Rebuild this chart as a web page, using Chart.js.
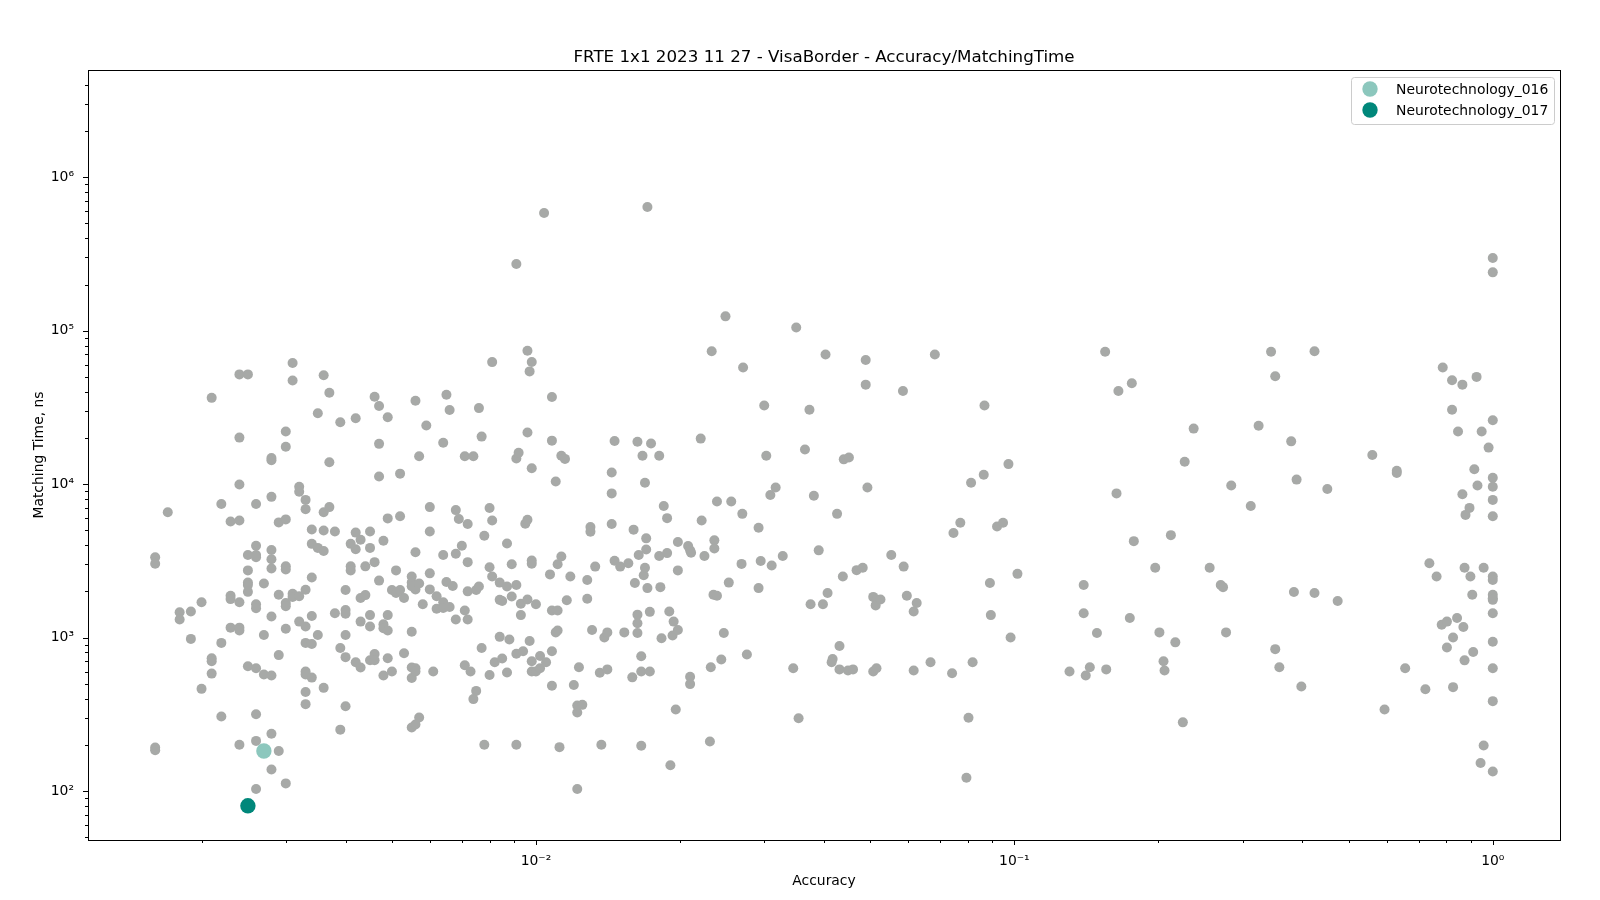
<!DOCTYPE html>
<html>
<head>
<meta charset="utf-8">
<title>FRTE 1x1</title>
<script src="https://cdn.jsdelivr.net/npm/chart.js@4"></script>
<style>
html, body { margin: 0; padding: 0; background: #fff; }
canvas { display: block; }
</style>
</head>
<body>
<canvas id="result-scatter" width="1600" height="900"></canvas>
<script>
// accuracy / matching time, grouped by accuracy range
var accuracyA = [
    0.0016, 0.0016, 0.0016, 0.0016, 0.0017, 0.0018, 0.0018, 0.0019, 0.0019, 0.0020,
    0.0020, 0.0021, 0.0021, 0.0021, 0.0021, 0.0022, 0.0022, 0.0022, 0.0023, 0.0023,
    0.0023, 0.0023, 0.0024, 0.0024, 0.0024, 0.0024, 0.0024, 0.0024, 0.0024, 0.0024,
    0.0025, 0.0025, 0.0025, 0.0025, 0.0025, 0.0025, 0.0025, 0.0026, 0.0026, 0.0026,
    0.0026, 0.0026, 0.0026, 0.0026, 0.0026, 0.0026, 0.0026, 0.0027, 0.0027, 0.0027,
    0.0028, 0.0028, 0.0028, 0.0028, 0.0028, 0.0028, 0.0028, 0.0028, 0.0028, 0.0028,
    0.0029, 0.0029, 0.0029, 0.0029, 0.0030, 0.0030, 0.0030, 0.0030, 0.0030, 0.0030,
    0.0030, 0.0030, 0.0030
];
var timeA = [
    3340, 3030, 192, 184, 6560, 1460, 1310, 1480, 980, 1700,
    463, 36500, 733, 700, 582, 7410, 923, 306, 5710, 1870,
    1780, 1160, 51900, 20100, 9930, 5800, 1700, 1160, 1110, 200,
    51900, 3450, 2740, 2280, 2200, 1985, 650, 7410, 3960, 3450,
    3340, 1650, 1550, 631, 316, 212, 103, 2250, 1040, 574,
    14800, 14300, 8260, 3720, 3240, 2820, 1370, 565, 236, 138,
    5630, 1900, 768, 182, 22000, 17500, 5890, 2910, 2780, 1680,
    1600, 1140, 112
];
var accuracyB = [
    0.0031, 0.0031, 0.0031, 0.0031, 0.0032, 0.0032, 0.0032, 0.0032, 0.0033, 0.0033,
    0.0033, 0.0033, 0.0033, 0.0033, 0.0033, 0.0033, 0.0033, 0.0034, 0.0034, 0.0034,
    0.0034, 0.0034, 0.0034, 0.0035, 0.0035, 0.0035, 0.0036, 0.0036, 0.0036, 0.0036,
    0.0036, 0.0037, 0.0037, 0.0037, 0.0038, 0.0038, 0.0039, 0.0039, 0.0039, 0.0040,
    0.0040, 0.0040, 0.0040, 0.0040, 0.0040, 0.0041, 0.0041, 0.0041, 0.0042, 0.0042,
    0.0042, 0.0042, 0.0043, 0.0043, 0.0043, 0.0043, 0.0044, 0.0044, 0.0045, 0.0045,
    0.0045, 0.0045, 0.0045, 0.0046, 0.0046, 0.0046, 0.0046, 0.0047, 0.0047, 0.0047,
    0.0047, 0.0048, 0.0048, 0.0048, 0.0048, 0.0049, 0.0049, 0.0049, 0.0049, 0.0049,
    0.0050, 0.0050, 0.0051, 0.0051, 0.0052, 0.0052, 0.0052, 0.0053, 0.0053
];
var timeB = [
    61500, 47400, 1930, 1840, 9620, 8910, 1860, 1270, 7890, 6870,
    2050, 1180, 923, 600, 575, 442, 368, 5060, 4080, 2460,
    1380, 908, 548, 29000, 3840, 1040, 51200, 6560, 4980, 3660,
    470, 39400, 13900, 7080, 4910, 1440, 25300, 855, 251, 2040,
    1510, 1430, 1040, 745, 357, 4080, 2910, 2740, 26900, 4830,
    3760, 690, 4340, 1810, 1270, 638, 2910, 1890, 4910, 3840,
    1400, 1180, 711, 37100, 3100, 780, 711, 32300, 18300, 11200,
    2350, 4270, 1220, 1150, 565, 27300, 5980, 1400, 1110, 733,
    2040, 600, 2740, 1950, 11700, 6170, 2040, 1810, 790
];
var accuracyC = [
    0.0055, 0.0055, 0.0055, 0.0055, 0.0055, 0.0055, 0.0055, 0.0056, 0.0056, 0.0056,
    0.0056, 0.0056, 0.0056, 0.0057, 0.0057, 0.0057, 0.0058, 0.0059, 0.0060, 0.0060,
    0.0060, 0.0060, 0.0061, 0.0062, 0.0062, 0.0064, 0.0064, 0.0064, 0.0064, 0.0065,
    0.0065, 0.0066, 0.0066, 0.0067, 0.0068, 0.0068, 0.0068, 0.0069, 0.0070, 0.0071,
    0.0071, 0.0071, 0.0072, 0.0072, 0.0072, 0.0072, 0.0073, 0.0074, 0.0074, 0.0075,
    0.0075, 0.0076, 0.0076, 0.0077, 0.0077, 0.0078, 0.0078, 0.0080, 0.0080, 0.0080,
    0.0081, 0.0081, 0.0081, 0.0084, 0.0084, 0.0084, 0.0082, 0.0085, 0.0085, 0.0087,
    0.0087, 0.0087, 0.0088, 0.0089, 0.0089, 0.0091, 0.0091, 0.0091, 0.0091, 0.0091,
    0.0092, 0.0093, 0.0093, 0.0094, 0.0095, 0.0096, 0.0096, 0.0096, 0.0096, 0.0097,
    0.0098, 0.0097, 0.0098, 0.0098, 0.0098, 0.0098, 0.0098, 0.0100, 0.0100
];
var timeC = [
    2500, 2280, 2160, 1090, 638, 545, 259, 34900, 3600, 2060,
    630, 600, 271, 15200, 2250, 301, 1650, 24100, 7080, 4910,
    2620, 2060, 600, 1860, 1540, 18600, 3450, 1700, 1560, 38200,
    2300, 30400, 1580, 2170, 6770, 3520, 1310, 5930, 3960, 15200,
    1500, 659, 5500, 3100, 2000, 1310, 600, 15200, 397, 2040,
    449, 31300, 2150, 20400, 855, 4610, 200, 6980, 2870, 570,
    62400, 5800, 2500, 2280, 1760, 1010, 690, 1730, 730, 2150,
    4100, 592, 970, 3000, 1850, 2200, 272000, 14700, 785, 200,
    16000, 1660, 1400, 815, 5520, 5860, 74000, 21700, 1770, 54300,
    3180, 950, 62500, 3030, 12700, 700, 600, 1650, 600
];
var accuracyD = [
    0.0102, 0.0102, 0.0104, 0.0105, 0.0107, 0.0108, 0.0108, 0.0108, 0.0108, 0.0108,
    0.0110, 0.0111, 0.0111, 0.0111, 0.0110, 0.0112, 0.0113, 0.0113, 0.0115, 0.0116,
    0.0118, 0.0120, 0.0122, 0.0122, 0.0125, 0.0122, 0.0123, 0.0128, 0.0128, 0.0130,
    0.0130, 0.0131, 0.0133, 0.0136, 0.0137, 0.0139, 0.0141, 0.0141, 0.0144, 0.0144,
    0.0144, 0.0146, 0.0146, 0.0150, 0.0153, 0.0156, 0.0160, 0.0161, 0.0163, 0.0163,
    0.0163, 0.0163, 0.0164, 0.0159, 0.0166, 0.0166, 0.0166, 0.0168, 0.0167, 0.0169,
    0.0169, 0.0170, 0.0170, 0.0171, 0.0171, 0.0173, 0.0173, 0.0174, 0.0181, 0.0181,
    0.0182, 0.0183, 0.0185, 0.0188, 0.0188, 0.0190, 0.0191, 0.0193, 0.0194, 0.0196,
    0.0198, 0.0198, 0.0198
];
var timeD = [
    631, 757, 585000, 690, 2580, 37000, 19200, 1500, 485, 815,
    10400, 1500, 3000, 1110, 1080, 193, 3370, 15300, 14600, 1750,
    2500, 490, 325, 360, 364, 103, 640, 2370, 1790, 5250,
    4900, 1120, 2900, 590, 200, 1000, 1080, 620, 11900, 8700,
    5500, 3170, 19100, 2900, 1080, 3050, 5050, 2270, 18900, 1410,
    1240, 1070, 3450, 550, 197, 755, 600, 2550, 15300, 10200,
    2850, 4430, 3750, 2100, 640000, 1470, 600, 18400, 15300, 3400,
    2130, 990, 7200, 6000, 3550, 1480, 147, 1030, 1270, 340,
    4200, 1120, 2740
];
var accuracyE = [
    0.0208, 0.0210, 0.0210, 0.0210, 0.0211, 0.0222, 0.0225, 0.0221, 0.0233, 0.0232,
    0.0231, 0.0235, 0.0239, 0.0236, 0.0236, 0.0239, 0.0244, 0.0247, 0.0249, 0.0253,
    0.0256, 0.0269, 0.0270, 0.0271, 0.0276, 0.0292, 0.0292, 0.0295, 0.0300, 0.0303,
    0.0309, 0.0311, 0.0317, 0.0328, 0.0345, 0.0350, 0.0354, 0.0365, 0.0373, 0.0381,
    0.0390, 0.0375, 0.0398, 0.0403, 0.0407, 0.0417, 0.0415, 0.0426, 0.0431, 0.0431,
    0.0438, 0.0440, 0.0451, 0.0449, 0.0460, 0.0468, 0.0482, 0.0489, 0.0489, 0.0493,
    0.0507, 0.0507, 0.0515, 0.0513, 0.0525, 0.0515, 0.0553, 0.0585, 0.0587, 0.0596,
    0.0616, 0.0616, 0.0625, 0.0668, 0.0682, 0.0741, 0.0746, 0.0771, 0.0794, 0.0802,
    0.0812, 0.0818, 0.0863, 0.0866, 0.0889, 0.0893, 0.0920, 0.0947, 0.0972, 0.0982,
    0.1015
];
var timeE = [
    3950, 3700, 555, 497, 3570, 5800, 3400, 19800, 73500, 640,
    210, 1900, 1870, 4300, 3800, 7700, 720, 1070, 124000, 2280,
    7700, 3020, 6400, 57500, 775, 5200, 2100, 3150, 32500, 15300,
    8500, 2950, 9500, 3400, 630, 105000, 298, 16800, 30500, 8400,
    3700, 1650, 1650, 70000, 1950, 725, 690, 6400, 880, 620,
    2500, 14500, 14900, 610, 620, 2750, 2850, 64500, 44500, 9500,
    600, 1840, 1760, 1620, 1770, 630, 3450, 40500, 2900, 1870,
    1480, 610, 1680, 690, 70000, 585, 4800, 5600, 122, 300,
    10200, 690, 11500, 32500, 2270, 1400, 5300, 5600, 13500, 1000,
    2600
];
var accuracyF = [
    0.1304, 0.1396, 0.1396, 0.1410, 0.1438, 0.1488, 0.1548, 0.1556, 0.1635, 0.1650,
    0.1743, 0.1760, 0.1777, 0.1970, 0.2010, 0.2050, 0.2060, 0.2124, 0.2170, 0.2250,
    0.2270, 0.2370, 0.2560, 0.2700, 0.2730, 0.2770, 0.2840, 0.3120, 0.3240, 0.3440,
    0.3510, 0.3510, 0.3580, 0.3790, 0.3840, 0.3890, 0.3980, 0.4240, 0.4240, 0.4510,
    0.4740, 0.5600, 0.5940, 0.6300, 0.6300, 0.6560, 0.7230, 0.7370, 0.7630, 0.7820,
    0.7860, 0.8020, 0.8020, 0.8220, 0.8220, 0.8260, 0.8260, 0.8420, 0.8460, 0.8640,
    0.8640, 0.8730, 0.8680, 0.8730, 0.8770, 0.8940, 0.8980, 0.9060, 0.9100, 0.9150,
    0.9250, 0.9290, 0.9430, 0.9480, 0.9570, 0.9570, 0.9800, 1, 1, 1,
    1, 1, 1, 1, 1, 1, 1, 1, 1, 1,
    1, 1, 1
];
var timeF = [
    600, 2200, 1440, 565, 640, 1070, 73000, 620, 8700, 40500,
    1340, 45500, 4250, 2850, 1080, 700, 610, 4650, 930, 280,
    14000, 23000, 2850, 2200, 2130, 1080, 9800, 7200, 24000, 73000,
    50500, 840, 640, 19000, 1980, 10700, 480, 73500, 1950, 9300,
    1730, 15500, 340, 11800, 12200, 630, 460, 3050, 2500, 1210,
    57500, 1270, 860, 47500, 30500, 1000, 475, 1340, 22000, 44500,
    8600, 2850, 1170, 710, 6300, 7000, 2500, 1900, 805, 12500,
    50000, 9800, 152, 22000, 2850, 198, 17300, 298000, 240000, 26100,
    11000, 9620, 7890, 6180, 2500, 2370, 1900, 1800, 1760, 1440,
    938, 630, 385
];
var extraAccuracy = [1];
var extraTime = [134];

var highlightNames = ["Neurotechnology_016", "Neurotechnology_017"];
var highlightAccuracy = [0.0027, 0.0025];
var highlightTime = [182, 80];
var highlightColors = ['#8cc7bd', '#00877a'];

var xMajorValues = [0.01, 0.1, 1];
var xMajorLabels = ['10\u207B\u00B2', '10\u207B\u00B9', '10\u2070'];
var xMinorValues = [0.002, 0.003, 0.004, 0.005, 0.006, 0.007, 0.008, 0.009,
    0.02, 0.03, 0.04, 0.05, 0.06, 0.07, 0.08, 0.09,
    0.2, 0.3, 0.4, 0.5, 0.6, 0.7, 0.8, 0.9];
var yMajorValues = [100, 1000, 10000, 100000, 1000000];
var yMajorLabels = ['10\u00B2', '10\u00B3', '10\u2074', '10\u2075', '10\u2076'];
var yMinorValues = [50, 60, 70, 80, 90, 200, 300, 400, 500, 600, 700, 800, 900,
    2000, 3000, 4000, 5000, 6000, 7000, 8000, 9000,
    20000, 30000, 40000, 50000, 60000, 70000, 80000, 90000,
    200000, 300000, 400000, 500000, 600000, 700000, 800000, 900000,
    2000000, 3000000, 4000000];

var fontName = "'DejaVu Sans'";
var allAccuracy = accuracyA.concat(accuracyB, accuracyC, accuracyD, accuracyE, accuracyF, extraAccuracy);
var allTime = timeA.concat(timeB, timeC, timeD, timeE, timeF, extraTime);

function toPoints(xs, ys) {
    return xs.map(function (v, i) { return { x: v, y: ys[i] }; });
}

function setTicks(majorValues, minorValues) {
    return function (scale) {
        scale.ticks = majorValues.concat(minorValues)
            .sort(function (a, b) { return a - b; })
            .map(function (v) { return { value: v }; });
    };
}

// box round the axes, matplotlib style tick marks, legend box
var frame = {
    id: 'frame',
    afterDraw: function (chart) {
        var c = chart.ctx, a = chart.chartArea;
        c.save();
        c.strokeStyle = '#000';
        c.lineWidth = 1;
        c.strokeRect(Math.round(a.left) + 0.5, Math.round(a.top) + 0.5,
            Math.round(a.right - a.left), Math.round(a.bottom - a.top));
        xMajorValues.concat(xMinorValues).forEach(function (v) {
            var px = Math.round(chart.scales.x.getPixelForValue(v)) + 0.5;
            var len = xMajorValues.indexOf(v) >= 0 ? 5 : 3;
            c.beginPath(); c.moveTo(px, a.bottom); c.lineTo(px, a.bottom + len); c.stroke();
        });
        yMajorValues.concat(yMinorValues).forEach(function (v) {
            var py = Math.round(chart.scales.y.getPixelForValue(v)) + 0.5;
            var len = yMajorValues.indexOf(v) >= 0 ? 5 : 3;
            c.beginPath(); c.moveTo(a.left, py); c.lineTo(a.left - len, py); c.stroke();
        });

        // legend
        var left = 1351, top = 77, w = 203, h = 47;
        c.fillStyle = 'rgba(255,255,255,0.8)';
        c.strokeStyle = '#cccccc';
        c.beginPath();
        c.roundRect(left + 0.5, top + 0.5, w, h, 3);
        c.fill();
        c.stroke();
        c.font = '13.9px ' + fontName;
        c.textBaseline = 'middle';
        highlightNames.forEach(function (name, i) {
            var cy = 89 + i * 21;
            c.fillStyle = highlightColors[i];
            c.beginPath(); c.arc(1370, cy, 7.7, 0, Math.PI * 2); c.fill();
            c.fillStyle = '#000';
            c.fillText(name, 1396, cy + 1);
        });
        c.restore();
    }
};

var ctx = document.getElementById('result-scatter');
var myScatter = new Chart(ctx, {
    type: 'scatter',
    data: {
        datasets: [{
            label: 'others',
            data: toPoints(allAccuracy, allTime),
            backgroundColor: '#a7a9a7',
            borderWidth: 0,
            pointRadius: 5,
            order: 3
        }, {
            label: highlightNames[0],
            data: [{ x: highlightAccuracy[0], y: highlightTime[0] }],
            backgroundColor: highlightColors[0],
            borderWidth: 0,
            pointRadius: 7.7,
            order: 2
        }, {
            label: highlightNames[1],
            data: [{ x: highlightAccuracy[1], y: highlightTime[1] }],
            backgroundColor: highlightColors[1],
            borderWidth: 0,
            pointRadius: 7.7,
            order: 1
        }]
    },
    plugins: [frame],
    options: {
        responsive: false,
        animation: false,
        layout: { padding: { right: 40 } },
        plugins: {
            legend: { display: false },
            tooltip: { enabled: false },
            title: {
                display: true,
                text: 'FRTE 1x1 2023 11 27 - VisaBorder - Accuracy/MatchingTime',
                color: '#000',
                fullSize: false,
                font: { family: fontName, size: 16.7, weight: 'normal' },
                padding: { top: 48, bottom: 2 }
            }
        },
        scales: {
            x: {
                type: 'logarithmic',
                min: 0.001158,
                max: 1.382,
                grid: { display: false },
                border: { display: false },
                afterBuildTicks: setTicks(xMajorValues, xMinorValues),
                afterFit: function (scale) { scale.height = 60; },
                ticks: {
                    color: '#000',
                    autoSkip: false,
                    maxRotation: 0,
                    padding: 5,
                    font: { family: fontName, size: 13.9 },
                    callback: function (v) {
                        var i = xMajorValues.indexOf(v);
                        return i >= 0 ? xMajorLabels[i] : '';
                    }
                },
                title: {
                    display: true,
                    text: 'Accuracy',
                    color: '#000',
                    font: { family: fontName, size: 13.9 },
                    padding: { top: 10, bottom: 10 }
                }
            },
            y: {
                type: 'logarithmic',
                min: 47.9,
                max: 5000000,
                grid: { display: false },
                border: { display: false },
                afterBuildTicks: setTicks(yMajorValues, yMinorValues),
                afterFit: function (scale) { scale.width = 88; },
                ticks: {
                    color: '#000',
                    autoSkip: false,
                    padding: 6,
                    font: { family: fontName, size: 13.9 },
                    callback: function (v) {
                        var i = yMajorValues.indexOf(v);
                        return i >= 0 ? yMajorLabels[i] : '';
                    }
                },
                title: {
                    display: true,
                    text: 'Matching Time, ns',
                    color: '#000',
                    font: { family: fontName, size: 13.9 },
                    padding: { top: 31, bottom: 31 }
                }
            }
        }
    }
});
</script>
</body>
</html>
